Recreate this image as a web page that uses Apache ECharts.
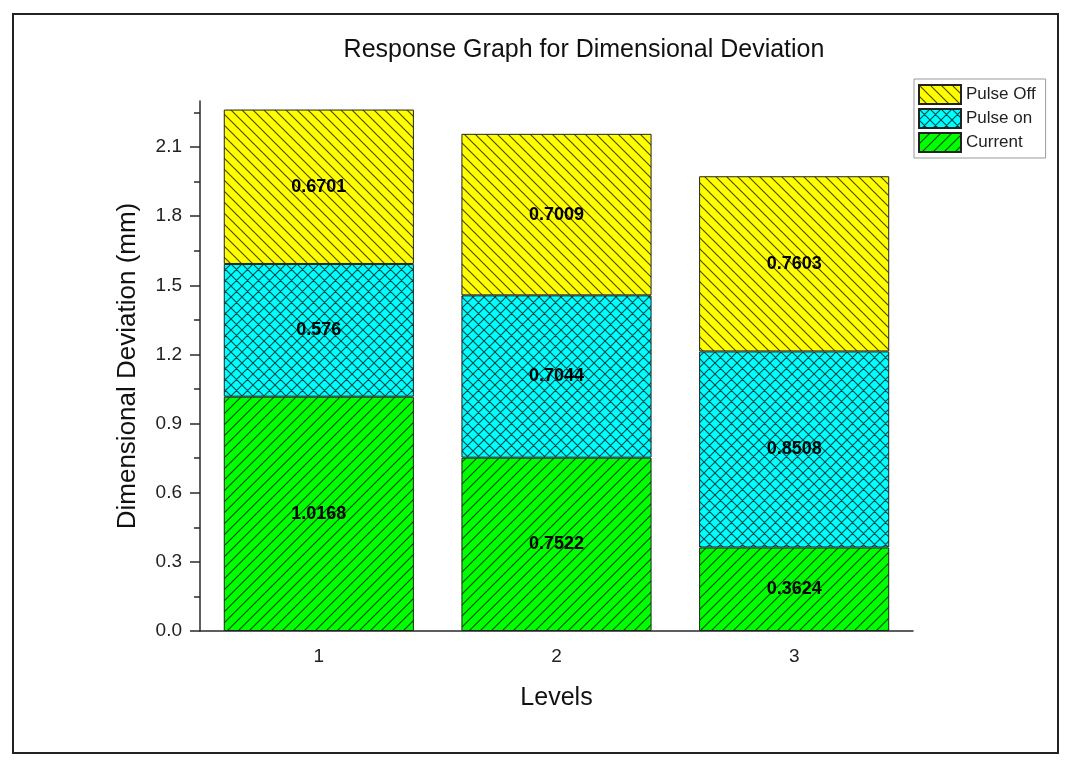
<!DOCTYPE html>
<html>
<head>
<meta charset="utf-8">
<script src="https://cdn.jsdelivr.net/npm/echarts@6/dist/echarts.min.js"></script>
<style>
html,body{margin:0;padding:0;background:#fff;}
#main{width:1070px;height:768px;}
</style>
</head>
<body>
<div id="main"></div>
<script>
// ---- data ----
const levels = ['1', '2', '3'];
const current = [1.0168, 0.7522, 0.3624];
const pulseOn = [0.576, 0.7044, 0.8508];
const pulseOff = [0.6701, 0.7009, 0.7603];
const yMajorTicks = [0, 0.3, 0.6, 0.9, 1.2, 1.5, 1.8, 2.1];
const yMinorTicks = [0.15, 0.45, 0.75, 1.05, 1.35, 1.65, 1.95, 2.25];

// ---- hatch patterns ----
function makePattern(bg, kind, s) {
  const c = document.createElement('canvas');
  c.width = s; c.height = s;
  const g = c.getContext('2d');
  g.fillStyle = bg;
  g.fillRect(0, 0, s, s);
  g.strokeStyle = 'rgba(0,0,0,0.72)';
  g.lineWidth = 1.1;
  g.beginPath();
  if (kind === 'back' || kind === 'cross') {
    g.moveTo(-s, -s); g.lineTo(2 * s, 2 * s);
    g.moveTo(-s, 0); g.lineTo(s, 2 * s);
    g.moveTo(0, -s); g.lineTo(2 * s, s);
  }
  if (kind === 'fwd' || kind === 'cross') {
    g.moveTo(-s, 2 * s); g.lineTo(2 * s, -s);
    g.moveTo(-s, s); g.lineTo(s, -s);
    g.moveTo(0, 2 * s); g.lineTo(2 * s, 0);
  }
  g.stroke();
  return { image: c, repeat: 'repeat' };
}
const pYellow = makePattern('#ffff00', 'back', 11);
const pCyan = makePattern('#00ffff', 'cross', 11);
const pGreen = makePattern('#00ff00', 'fwd', 11);

const font = '"Liberation Sans", Arial, sans-serif';
const axisColor = '#2a2a2a';

function barSeries(name, data, pattern) {
  return {
    name: name,
    type: 'bar',
    stack: 'total',
    data: data,
    barCategoryGap: '20%',
    itemStyle: { color: pattern, borderColor: '#222', borderWidth: 1 },
    label: {
      show: true, position: 'inside',
      formatter: p => String(p.value),
      fontFamily: font, fontSize: 18, fontWeight: 'bold', color: '#000'
    },
    emphasis: { disabled: true }
  };
}

const chart = echarts.init(document.getElementById('main'), null, { renderer: 'canvas' });
chart.setOption({
  animation: false,
  backgroundColor: '#fff',
  title: {
    text: 'Response Graph for Dimensional Deviation',
    left: 579, top: 33, textAlign: 'center',
    textStyle: { fontFamily: font, fontSize: 25, fontWeight: 'normal', color: '#111' }
  },
  graphic: [{
    type: 'rect', silent: true, z: 100,
    shape: { x: 13, y: 14, width: 1045, height: 739 },
    style: { fill: 'none', stroke: '#222', lineWidth: 2 }
  }],
  legend: {
    data: ['Pulse Off', 'Pulse on', 'Current'],
    orient: 'vertical',
    left: 914, top: 79,
    itemWidth: 42, itemHeight: 19, itemGap: 3, itemTextGap: 8,
    padding: [5, 10, 5, 4],
    borderColor: '#999', borderWidth: 1,
    icon: 'rect',
    textStyle: { fontFamily: font, fontSize: 17, color: '#222' },
    selectedMode: false
  },
  grid: { left: 200, right: 157, top: 101, bottom: 137 },
  xAxis: [{
    type: 'category', data: levels, position: 'bottom',
    axisLine: { lineStyle: { color: axisColor, width: 1.5 } },
    axisTick: { alignWithLabel: true, length: 10, lineStyle: { color: axisColor, width: 1.5 } },
    axisLabel: { margin: 16, fontFamily: font, fontSize: 19, color: '#222' },
    name: 'Levels', nameLocation: 'middle', nameGap: 55,
    nameTextStyle: { fontFamily: font, fontSize: 25, color: '#111' }
  }, {
    type: 'category', data: levels, position: 'bottom', offset: 0,
    axisLine: { show: false },
    axisTick: { alignWithLabel: false, length: 6, lineStyle: { color: axisColor, width: 1.5 } },
    axisLabel: { show: false }
  }],
  yAxis: [{
    type: 'value', min: 0, max: 2.3, interval: 0.3, position: 'left',
    splitLine: { show: false },
    axisLine: { show: true, lineStyle: { color: axisColor, width: 1.5 } },
    axisTick: { show: true, length: 10, customValues: yMajorTicks, lineStyle: { color: axisColor, width: 1.5 } },
    axisLabel: { margin: 18, customValues: yMajorTicks, formatter: v => Number(v).toFixed(1), fontFamily: font, fontSize: 19, color: '#222' },
    name: 'Dimensional Deviation (mm)', nameLocation: 'middle', nameGap: 59,
    nameTextStyle: { fontFamily: font, fontSize: 26, color: '#111' }
  }, {
    type: 'value', min: 0, max: 2.3, position: 'left', offset: 0,
    splitLine: { show: false },
    axisLine: { show: false },
    axisTick: { show: true, length: 6, customValues: yMinorTicks, lineStyle: { color: axisColor, width: 1.5 } },
    axisLabel: { show: false }
  }],
  series: [
    barSeries('Current', current, pGreen),
    barSeries('Pulse on', pulseOn, pCyan),
    barSeries('Pulse Off', pulseOff, pYellow)
  ]
});
</script>
</body>
</html>
